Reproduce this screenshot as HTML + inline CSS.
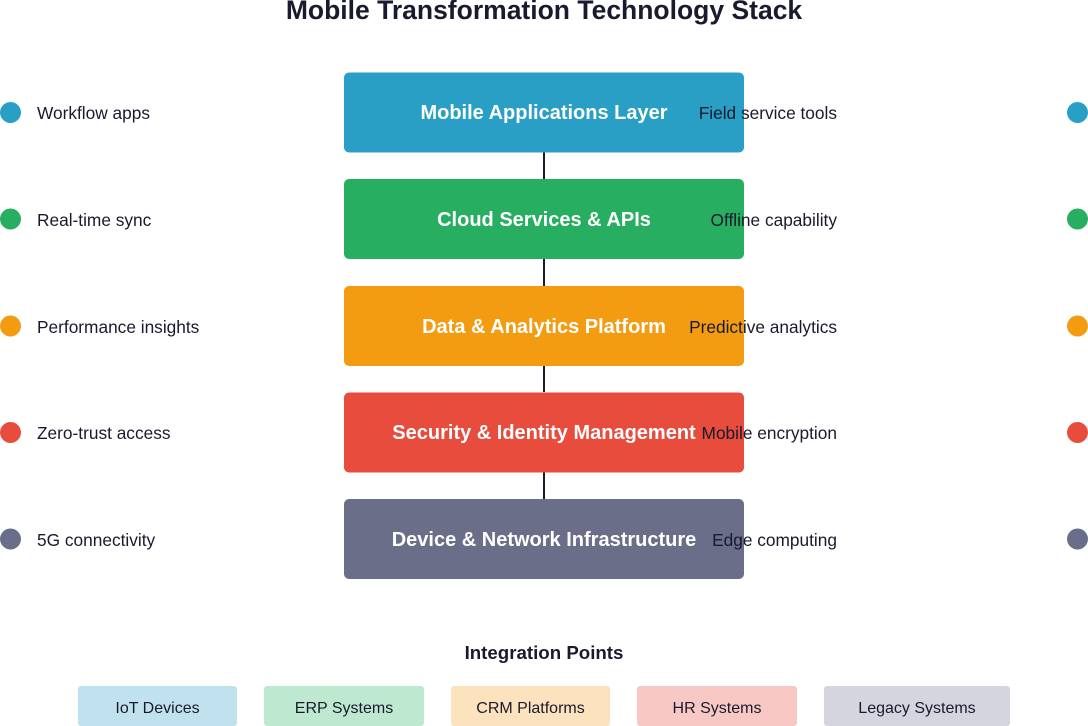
<!DOCTYPE html>
<html><head><meta charset="utf-8"><style>
body{margin:0;background:#fff;}
svg{display:block;font-family:"Liberation Sans",sans-serif;}
</style></head><body>
<svg width="1088" height="726" viewBox="0 0 1088 726">
<text x="544" y="19" text-anchor="middle" font-size="26.5" font-weight="bold" fill="#1a1a2e">Mobile Transformation Technology Stack</text>
<g stroke="#1a1a2e" stroke-width="2">
<line x1="544" y1="152" x2="544" y2="179"/>
<line x1="544" y1="259" x2="544" y2="286"/>
<line x1="544" y1="366" x2="544" y2="392"/>
<line x1="544" y1="472" x2="544" y2="499"/>
</g>
<rect x="344" y="72.5" width="400" height="80" rx="5" fill="#2a9fc5"/>
<rect x="344" y="179" width="400" height="80" rx="5" fill="#27ae60"/>
<rect x="344" y="286" width="400" height="80" rx="5" fill="#f39c12"/>
<rect x="344" y="392.5" width="400" height="80" rx="5" fill="#e74c3c"/>
<rect x="344" y="499" width="400" height="80" rx="5" fill="#6b6e89"/>
<g font-size="20" font-weight="bold" fill="#fff" text-anchor="middle">
<text x="544" y="119">Mobile Applications Layer</text>
<text x="544" y="226">Cloud Services &amp; APIs</text>
<text x="544" y="333">Data &amp; Analytics Platform</text>
<text x="544" y="439">Security &amp; Identity Management</text>
<text x="544" y="546">Device &amp; Network Infrastructure</text>
</g>
<g font-size="17.3" fill="#1a1a2e">
<text x="37" y="119">Workflow apps</text>
<text x="37" y="226">Real-time sync</text>
<text x="37" y="333">Performance insights</text>
<text x="37" y="439">Zero-trust access</text>
<text x="37" y="546">5G connectivity</text>
</g>
<g font-size="17.3" fill="#1a1a2e" text-anchor="end">
<text x="837" y="119">Field service tools</text>
<text x="837" y="226">Offline capability</text>
<text x="837" y="333">Predictive analytics</text>
<text x="837" y="439">Mobile encryption</text>
<text x="837" y="546">Edge computing</text>
</g>
<circle cx="10.5" cy="112.5" r="10.5" fill="#2a9fc5"/><circle cx="1077.5" cy="112.5" r="10.5" fill="#2a9fc5"/>
<circle cx="10.5" cy="219" r="10.5" fill="#27ae60"/><circle cx="1077.5" cy="219" r="10.5" fill="#27ae60"/>
<circle cx="10.5" cy="326" r="10.5" fill="#f39c12"/><circle cx="1077.5" cy="326" r="10.5" fill="#f39c12"/>
<circle cx="10.5" cy="432.5" r="10.5" fill="#e74c3c"/><circle cx="1077.5" cy="432.5" r="10.5" fill="#e74c3c"/>
<circle cx="10.5" cy="539" r="10.5" fill="#6b6e89"/><circle cx="1077.5" cy="539" r="10.5" fill="#6b6e89"/>
<text x="544" y="659" text-anchor="middle" font-size="18.7" font-weight="bold" fill="#1a1a2e">Integration Points</text>
<rect x="78" y="686" width="159" height="40" rx="3" fill="#bfe2ee"/>
<rect x="264" y="686" width="160" height="40" rx="3" fill="#bfe8d1"/>
<rect x="451" y="686" width="159" height="40" rx="3" fill="#fce3bd"/>
<rect x="637" y="686" width="160" height="40" rx="3" fill="#f8c9c4"/>
<rect x="824" y="686" width="186" height="40" rx="3" fill="#d4d5de"/>
<g font-size="16" fill="#1a1a2e" text-anchor="middle">
<text x="157.5" y="713">IoT Devices</text>
<text x="344" y="713">ERP Systems</text>
<text x="530.5" y="713">CRM Platforms</text>
<text x="717" y="713">HR Systems</text>
<text x="917" y="713">Legacy Systems</text>
</g>
</svg>
</body></html>
